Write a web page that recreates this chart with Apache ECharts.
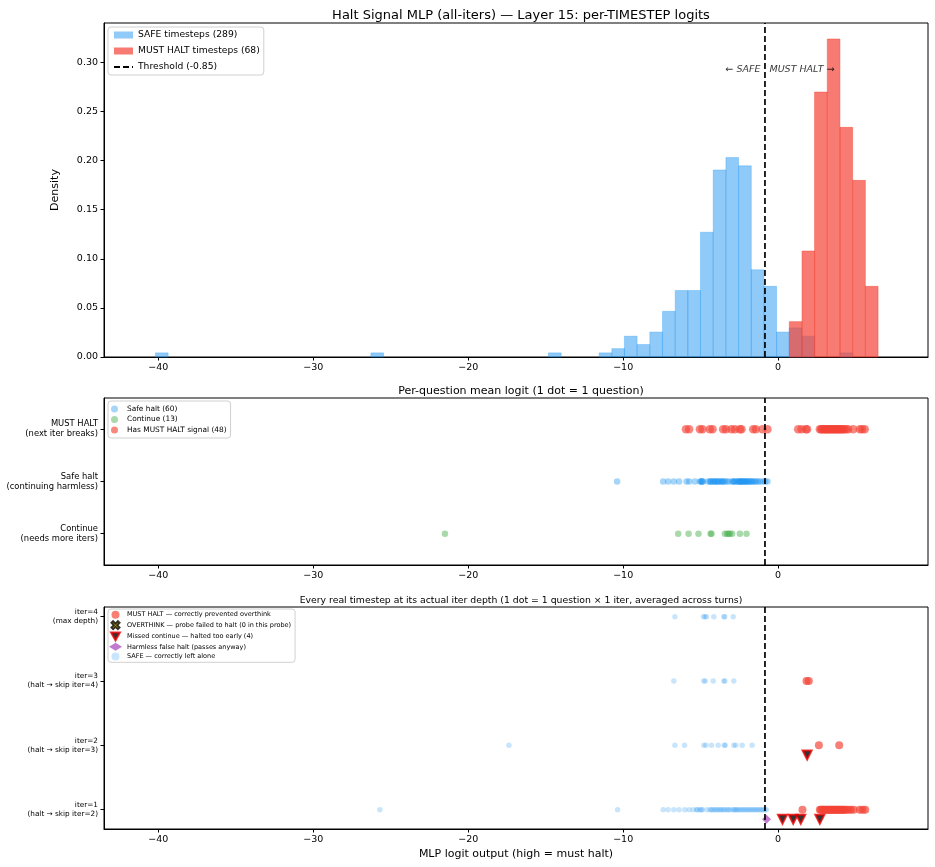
<!DOCTYPE html>
<html><head><meta charset="utf-8">
<script src="https://cdn.jsdelivr.net/npm/echarts@6/dist/echarts.min.js"></script>
<style>html,body{margin:0;padding:0;background:#fff}#c{width:935px;height:867px}</style>
</head><body><div id="c"></div>
<script>
// ---------------- DATA ----------------
const THRESHOLD = -0.85;
const BIN_WIDTH = 0.818;
// histogram (density) – lower bin edges and density values
const safeBinLeft  = [-40.18, -26.28, -14.82, -11.55, -10.73, -9.92, -9.10, -8.28, -7.46, -6.64, -5.83, -5.01, -4.19, -3.37, -2.55, -1.74, -0.92, -0.10, 0.72, 1.54, 3.99];
const safeDensity  = [0.0042, 0.0042, 0.0042, 0.0042, 0.0085, 0.0212, 0.0127, 0.0254, 0.0465, 0.0677, 0.0677, 0.1270, 0.1904, 0.2030, 0.1946, 0.0888, 0.0719, 0.0254, 0.0296, 0.0212, 0.0042];
const haltBinLeft  = [0.72, 1.54, 2.35, 3.17, 3.99, 4.81, 5.63];
const haltDensity  = [0.0360, 0.1079, 0.2697, 0.3237, 0.2338, 0.1798, 0.0719];

// per-question mean logit
const midRowLabels = ['Continue\n(needs more iters)', 'Safe halt\n(continuing harmless)', 'MUST HALT\n(next iter breaks)'];
const continueMean = [-21.5, -6.45, -5.78, -5.14, -4.36, -4.30, -3.44, -3.29, -3.20, -3.12, -2.97, -2.47, -2.04];
const safeHaltMean = [-10.39, -7.42, -7.10, -6.73, -6.39, -5.91, -5.74, -5.37, -5.05, -4.96, -4.94, -4.90, -4.85, -4.52, -4.40, -4.35, -4.30, -4.18, -4.12, -4.08, -3.97, -3.90, -3.87, -3.76, -3.65, -3.60, -3.55, -3.45, -3.33, -3.20, -2.98, -2.90, -2.85, -2.79, -2.68, -2.60, -2.52, -2.50, -2.47, -2.40, -2.33, -2.30, -2.26, -2.19, -2.12, -2.08, -2.04, -1.96, -1.90, -1.83, -1.75, -1.67, -1.61, -1.50, -1.40, -1.29, -1.15, -0.97, -0.83, -0.69];
const mustHaltMean = [-5.95, -5.74, -5.05, -4.88, -4.41, -4.23, -3.55, -3.37, -3.01, -2.79, -2.47, -2.36, -1.61, -1.44, -1.01, -0.69,
  1.29, 1.51, 1.79, 1.87,
  2.69, 2.78, 2.85, 2.93, 3.02, 3.08, 3.15, 3.22, 3.30, 3.36, 3.44, 3.51, 3.58, 3.66, 3.72, 3.80, 3.87, 3.94, 4.02, 4.10, 4.18, 4.27, 4.38, 4.52, 4.84, 5.27, 5.42, 5.59];

// per timestep at iter depth
const iterLabels = ['iter=1\n(halt → skip iter=2)', 'iter=2\n(halt → skip iter=3)', 'iter=3\n(halt → skip iter=4)', 'iter=4\n(max depth)'];
const safeIter1 = [-25.7, -10.36, -7.42, -7.10, -6.73, -6.39, -6.02, -5.74, -5.48, -5.27, -5.20, -5.05, -4.95, -4.88, -4.58, -4.40, -4.30, -4.20, -4.08, -3.97, -3.87, -3.75, -3.65, -3.55, -3.44, -3.30, -3.22, -3.10, -2.94, -2.85, -2.75, -2.68, -2.58, -2.47, -2.36, -2.26, -2.15, -2.04, -1.93, -1.83, -1.72, -1.61, -1.50, -1.40, -1.29, -1.18, -1.07, -0.97, -0.86, -0.76];
const safeIter2 = [-17.37, -6.66, -6.04, -4.80, -4.66, -4.30, -3.87, -3.47, -3.42, -2.86, -2.73, -2.32, -1.68];
const safeIter3 = [-6.73, -4.80, -4.70, -4.19, -3.50, -3.44, -2.86];
const safeIter4 = [-6.66, -4.82, -4.72, -4.62, -4.15, -3.50, -3.45, -2.90];
const haltIter1 = [1.57, 2.69, 2.76, 2.84, 2.91, 2.98, 3.05, 3.12, 3.20, 3.27, 3.34, 3.41, 3.48, 3.55, 3.62, 3.70, 3.77, 3.84, 3.92, 3.99, 4.06, 4.14, 4.22, 4.30, 4.40, 4.55, 4.70, 4.88, 5.27, 5.45, 5.62];
const haltIter2 = [2.63, 3.94];
const haltIter3 = [1.83, 1.98];
const missedIter = [1, 1, 1, 1, 2];
const missedLogit = [0.28, 0.97, 1.46, 2.69, 1.87];
const harmlessIter = [1];
const harmlessLogit = [-0.75];
const overthinkIter = [];
const overthinkLogit = [];

const xTicks = [-40, -30, -20, -10, 0];
const densityTicks = [0, 0.05, 0.10, 0.15, 0.20, 0.25, 0.30];

// ---------------- CHART ----------------
const FONT = 'DejaVu Sans';
const XMIN = -43.5, XMAX = 9.67;
const MARKER_OFFSET = 0.15;
const fmtMinus = v => (v < 0 ? '\u2212' + Math.abs(v) : String(v));

const grids = [
  {left: 104, width: 824, top: 23, height: 334},
  {left: 104, width: 824, top: 398, height: 167},
  {left: 104, width: 824, top: 607, height: 222}
].map(g => Object.assign(g, {show: true, borderColor: '#000', borderWidth: 1, backgroundColor: 'transparent', containLabel: false}));

function xAxis(i, name) {
  return {
    type: 'value', gridIndex: i, min: XMIN, max: XMAX,
    name: name || '', nameLocation: 'middle', nameGap: 20,
    nameTextStyle: {fontFamily: FONT, fontSize: 11, color: '#000'},
    axisLine: {show: true, onZero: false, lineStyle: {color: '#000', width: 1}},
    axisTick: {show: true, length: 3.5, customValues: xTicks, lineStyle: {color: '#000'}},
    axisLabel: {customValues: xTicks, formatter: fmtMinus, fontFamily: FONT, fontSize: 9.5, color: '#000', margin: 6},
    splitLine: {show: false}
  };
}

const yAxes = [
  {type: 'value', gridIndex: 0, min: 0, max: 0.34,
   name: 'Density', nameLocation: 'middle', nameGap: 43, nameRotate: 90,
   nameTextStyle: {fontFamily: FONT, fontSize: 11, color: '#000'},
   axisLine: {show: true, onZero: false, lineStyle: {color: '#000'}},
   axisTick: {show: true, length: 3.5, customValues: densityTicks, lineStyle: {color: '#000'}},
   axisLabel: {customValues: densityTicks, formatter: v => v.toFixed(2), fontFamily: FONT, fontSize: 9.5, color: '#000', margin: 6},
   splitLine: {show: false}},
  {type: 'value', gridIndex: 1, min: -0.6, max: 2.6,
   axisLine: {show: true, onZero: false, lineStyle: {color: '#000'}},
   axisTick: {show: true, length: 3.5, customValues: [0, 1, 2], lineStyle: {color: '#000'}},
   axisLabel: {customValues: [0, 1, 2], formatter: v => midRowLabels[Math.round(v)], fontFamily: FONT, fontSize: 8.4, lineHeight: 10, color: '#000', margin: 6, align: 'right'},
   splitLine: {show: false}},
  {type: 'value', gridIndex: 2, min: 0.7, max: 4.15,
   axisLine: {show: true, onZero: false, lineStyle: {color: '#000'}},
   axisTick: {show: true, length: 3.5, customValues: [1, 2, 3, 4], lineStyle: {color: '#000'}},
   axisLabel: {customValues: [1, 2, 3, 4], formatter: v => iterLabels[Math.round(v) - 1], fontFamily: FONT, fontSize: 7.3, lineHeight: 9, color: '#000', margin: 6, align: 'right'},
   splitLine: {show: false}}
];

function histSeries(name, lefts, dens, color) {
  return {
    type: 'custom', name, xAxisIndex: 0, yAxisIndex: 0,
    data: lefts.map((l, i) => [l, dens[i]]),
    itemStyle: {color},
    encode: {x: 0, y: 1},
    renderItem: (params, api) => {
      const x0 = api.value(0), h = api.value(1);
      const a = api.coord([x0, 0]);
      const b = api.coord([x0 + BIN_WIDTH, h]);
      return {type: 'rect', shape: {x: a[0], y: b[1], width: b[0] - a[0], height: a[1] - b[1]},
              style: {fill: color, stroke: color, lineWidth: 0.6}};
    }
  };
}

function threshSeries(i, lo, hi, name) {
  return {
    type: 'line', name: name || ('thr' + i), xAxisIndex: i, yAxisIndex: i,
    data: [[THRESHOLD, lo], [THRESHOLD, hi]], symbol: 'none', silent: true, z: 5,
    lineStyle: {color: '#000', width: 1.7, type: [6, 3]}
  };
}

function scatter(i, name, xs, ys, size, color, extra) {
  return Object.assign({
    type: 'scatter', name, xAxisIndex: i, yAxisIndex: i,
    data: xs.map((x, k) => [x, ys[k]]),
    symbolSize: size, itemStyle: {color, borderWidth: 0}
  }, extra || {});
}

const rowOf = (arr, v) => arr.map(() => v);

const xShape = 'path://M2,0 L5,3 L8,0 L10,2 L7,5 L10,8 L8,10 L5,7 L2,10 L0,8 L3,5 L0,2 Z';
const downTri = 'path://M0,0 L10,0 L5,9 Z';

const series = [
  histSeries('SAFE timesteps (289)', safeBinLeft, safeDensity, 'rgba(33,150,243,0.5)'),
  histSeries('MUST HALT timesteps (68)', haltBinLeft, haltDensity, 'rgba(244,67,54,0.7)'),
  threshSeries(0, 0, 0.34, 'Threshold (-0.85)'),
  {type: 'scatter', name: 'annot', xAxisIndex: 0, yAxisIndex: 0, silent: true,
   symbolSize: 1, itemStyle: {color: 'rgba(0,0,0,0)'},
   data: [
     {value: [THRESHOLD, 0.293], label: {show: true, position: 'left', distance: 4, formatter: '\u2190 SAFE'}},
     {value: [THRESHOLD, 0.293], label: {show: true, position: 'right', distance: 4, formatter: 'MUST HALT \u2192'}}
   ],
   label: {fontFamily: FONT, fontSize: 9.5, fontStyle: 'italic', color: '#000'}},

  scatter(1, 'Safe halt (60)', safeHaltMean, rowOf(safeHaltMean, 1), 6.5, 'rgba(33,150,243,0.5)'),
  scatter(1, 'Continue (13)', continueMean, rowOf(continueMean, 0), 6.5, 'rgba(76,175,80,0.6)'),
  scatter(1, 'Has MUST HALT signal (48)', mustHaltMean, rowOf(mustHaltMean, 2), 8.5, 'rgba(244,67,54,0.8)'),
  threshSeries(1, -0.6, 2.6),

  scatter(2, 'SAFE \u2014 correctly left alone',
    safeIter1.concat(safeIter2, safeIter3, safeIter4),
    rowOf(safeIter1, 1).concat(rowOf(safeIter2, 2), rowOf(safeIter3, 3), rowOf(safeIter4, 4)),
    5.5, 'rgba(33,150,243,0.3)'),
  scatter(2, 'MUST HALT \u2014 correctly prevented overthink',
    haltIter1.concat(haltIter2, haltIter3),
    rowOf(haltIter1, 1).concat(rowOf(haltIter2, 2), rowOf(haltIter3, 3)),
    8, 'rgba(244,67,54,0.85)'),
  scatter(2, 'OVERTHINK \u2014 probe failed to halt (0 in this probe)', overthinkLogit, overthinkIter, 9, '#FFD600',
    {symbol: xShape, itemStyle: {color: '#FFD600', borderColor: '#000', borderWidth: 0.8}}),
  scatter(2, 'Missed continue \u2014 halted too early (4)', missedLogit, missedIter.map(v => v - MARKER_OFFSET), 9, '#000',
    {symbol: downTri, itemStyle: {color: '#000', borderColor: '#EE0000', borderWidth: 2}, z: 4}),
  scatter(2, 'Harmless false halt (passes anyway)', harmlessLogit, harmlessIter.map(v => v - MARKER_OFFSET), 9, 'rgba(171,71,188,0.9)',
    {symbol: 'diamond', z: 4}),
  threshSeries(2, 0.7, 4.15)
];

const legendBase = {
  orient: 'vertical', selectedMode: false,
  borderColor: '#d0d0d0', borderWidth: 1, borderRadius: 3,
  backgroundColor: 'rgba(255,255,255,0.8)'
};

const option = {
  animation: false,
  backgroundColor: '#fff',
  title: [
    {text: 'Halt Signal MLP (all-iters) \u2014 Layer 15: per-TIMESTEP logits', left: 516, top: 4, textAlign: 'center',
     textStyle: {fontFamily: FONT, fontSize: 13, fontWeight: 'normal', color: '#000'}},
    {text: 'Per-question mean logit (1 dot = 1 question)', left: 516, top: 381, textAlign: 'center',
     textStyle: {fontFamily: FONT, fontSize: 11, fontWeight: 'normal', color: '#000'}},
    {text: 'Every real timestep at its actual iter depth (1 dot = 1 question \u00d7 1 iter, averaged across turns)', left: 516, top: 591, textAlign: 'center',
     textStyle: {fontFamily: FONT, fontSize: 9.3, fontWeight: 'normal', color: '#000'}}
  ],
  grid: grids,
  xAxis: [xAxis(0), xAxis(1), xAxis(2, 'MLP logit output (high = must halt)')],
  yAxis: yAxes,
  legend: [
    Object.assign({}, legendBase, {
      left: 108, top: 27, itemWidth: 19, itemHeight: 7, itemGap: 4, padding: [2, 4, 2, 5],
      textStyle: {fontFamily: FONT, fontSize: 9.2, color: '#000', lineHeight: 12},
      data: [{name: 'SAFE timesteps (289)', icon: 'rect'}, {name: 'MUST HALT timesteps (68)', icon: 'rect'},
             {name: 'Threshold (-0.85)', itemStyle: {opacity: 0}}]
    }),
    Object.assign({}, legendBase, {
      left: 108, top: 401, itemWidth: 15, itemHeight: 7, itemGap: 1.5, padding: [3.5, 4, 3.5, 3],
      textStyle: {fontFamily: FONT, fontSize: 7.4, color: '#000', lineHeight: 9},
      data: [{name: 'Safe halt (60)', icon: 'circle'}, {name: 'Continue (13)', icon: 'circle'}, {name: 'Has MUST HALT signal (48)', icon: 'circle'}]
    }),
    Object.assign({}, legendBase, {
      left: 108, top: 609, itemWidth: 13, itemHeight: 8, itemGap: 1.2, padding: [1.5, 4, 1.5, 1],
      textStyle: {fontFamily: FONT, fontSize: 6.5, color: '#000', lineHeight: 8.5},
      data: [
        {name: 'MUST HALT \u2014 correctly prevented overthink', icon: 'circle'},
        {name: 'OVERTHINK \u2014 probe failed to halt (0 in this probe)'},
        {name: 'Missed continue \u2014 halted too early (4)'},
        {name: 'Harmless false halt (passes anyway)'},
        {name: 'SAFE \u2014 correctly left alone', icon: 'circle'}
      ]
    })
  ],
  series
};

const chart = echarts.init(document.getElementById('c'), null, {renderer: 'canvas'});
chart.setOption(option);
</script></body></html>
